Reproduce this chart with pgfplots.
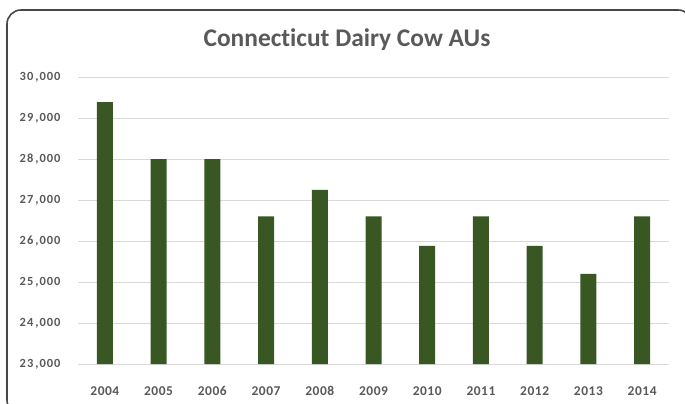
\documentclass[border=0pt]{standalone}
\usepackage{fontspec}
\setmainfont{Carlito}[Numbers=Lining, Ligatures=NoCommon]
\usepackage{pgfplots}
\pgfplotsset{compat=1.18}
\definecolor{bargreen}{RGB}{56,87,35}
\definecolor{txtgray}{RGB}{89,89,89}
\definecolor{gridgray}{RGB}{217,217,217}

\begin{document}
\begin{tikzpicture}
\useasboundingbox (0,0) rectangle (685bp,404bp);
\draw[line width=1.6bp, color=black!72, rounded corners=14bp] (7bp,-10bp) rectangle (692bp,394bp);
\node[font=\fontsize{25.5}{29}\selectfont\bfseries, text=txtgray] at (347bp,364bp) {Connecticut Dairy Cow AUs};
\begin{axis}[
    at={(78bp,40bp)}, anchor=south west,
    scale only axis, width=591bp, height=287bp,
    ybar, bar width=16bp,
    xmin=2003.5, xmax=2014.5,
    ymin=23000, ymax=30000,
    xtick=data,
    ytick={23000,24000,...,30000},
    scaled y ticks=false,
    /pgf/number format/assume math mode=true,
    ymajorgrids=true,
    grid style={gridgray, line width=1bp},
    axis line style={draw=none},
    major tick style={draw=none},
    xticklabel style={font=\fontsize{13.5}{15}\selectfont\bfseries\addfontfeatures{LetterSpace=4}, text=txtgray,
        /pgf/number format/1000 sep={}, anchor=base, yshift=-27bp},
    yticklabel style={font=\fontsize{12.5}{14}\selectfont\bfseries\addfontfeatures{LetterSpace=8}, text=txtgray,
        /pgf/number format/1000 sep={\kern2bp,}, xshift=-14bp},
    clip=false,
]
\addplot[fill=bargreen, draw=none] coordinates {
    (2004,29390) (2005,28000) (2006,28000) (2007,26600) (2008,27250) (2009,26600)
    (2010,25880) (2011,26600) (2012,25880) (2013,25200) (2014,26600)
};
\end{axis}
\end{tikzpicture}
\end{document}
